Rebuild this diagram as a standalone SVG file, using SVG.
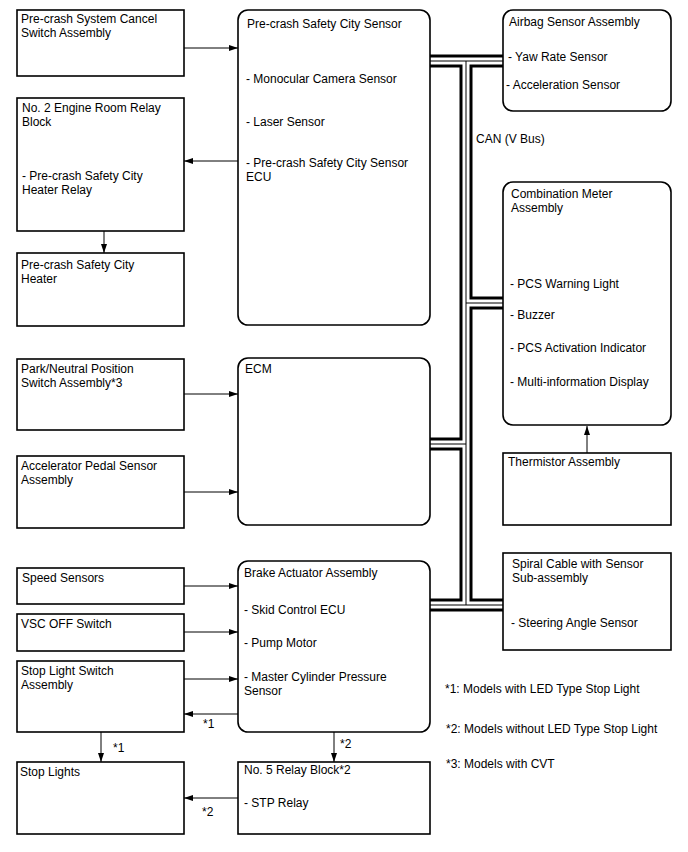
<svg xmlns="http://www.w3.org/2000/svg" width="688" height="852" viewBox="0 0 688 852">
<style>
.box{fill:#fff;stroke:#000;stroke-width:1.6}
.t{font-family:"Liberation Sans",Arial,sans-serif;font-size:12px;fill:#000}
.c{fill:none;stroke:#000;stroke-width:1}
.b1{fill:none;stroke:#000;stroke-width:13;stroke-linecap:butt;stroke-linejoin:miter}
.b2{fill:none;stroke:#fff;stroke-width:7;stroke-linecap:butt;stroke-linejoin:miter}
.b3{fill:none;stroke:#000;stroke-width:1;stroke-linecap:butt}
</style>
<defs>
<marker id="ah" markerUnits="userSpaceOnUse" markerWidth="9" markerHeight="6" refX="9" refY="3" orient="auto">
<path d="M0,0 L9,3 L0,6 z" fill="#000"/>
</marker>
</defs>
<rect width="688" height="852" fill="#fff"/>

<g id="connectors">
<g id="can-bus">
<path class="b1" d="M430,61 H503 M466,61 V605 M466,303 H503 M466,444 H430 M430,605 H503"/>
<path class="b2" d="M430,61 H503 M466,61 V605 M466,303 H503 M466,444 H430 M430,605 H503"/>
<path class="b3" d="M430,61 H503 M466,61 V605 M466,303 H503 M466,444 H430 M430,605 H503"/>
</g>
<line class="c" x1="184" y1="48" x2="238" y2="48" marker-end="url(#ah)"/>
<line class="c" x1="238" y1="161" x2="184" y2="161" marker-end="url(#ah)"/>
<line class="c" x1="104" y1="231" x2="104" y2="253" marker-end="url(#ah)"/>
<line class="c" x1="184" y1="394" x2="238" y2="394" marker-end="url(#ah)"/>
<line class="c" x1="184" y1="492" x2="238" y2="492" marker-end="url(#ah)"/>
<line class="c" x1="184" y1="586" x2="238" y2="586" marker-end="url(#ah)"/>
<line class="c" x1="184" y1="632" x2="238" y2="632" marker-end="url(#ah)"/>
<line class="c" x1="184" y1="679" x2="238" y2="679" marker-end="url(#ah)"/>
<line class="c" x1="238" y1="714" x2="184" y2="714" marker-end="url(#ah)"/>
<line class="c" x1="101" y1="732" x2="101" y2="762" marker-end="url(#ah)"/>
<line class="c" x1="334" y1="732" x2="334" y2="762" marker-end="url(#ah)"/>
<line class="c" x1="238" y1="798" x2="184" y2="798" marker-end="url(#ah)"/>
<line class="c" x1="587" y1="453" x2="587" y2="426" marker-end="url(#ah)"/>
<text class="t" x="203" y="728">*1</text>
<text class="t" x="113" y="752">*1</text>
<text class="t" x="340" y="748">*2</text>
<text class="t" x="202" y="816">*2</text>
<text class="t" x="476" y="143">CAN (V Bus)</text>
</g>

<g id="cancel-switch">
<rect class="box" x="17" y="10" width="167" height="66"/>
<text class="t" x="21" y="23">Pre-crash System Cancel</text>
<text class="t" x="21" y="37">Switch Assembly</text>
</g>
<g id="relay-block-2">
<rect class="box" x="17" y="98" width="167" height="133"/>
<text class="t" x="22" y="112">No. 2 Engine Room Relay</text>
<text class="t" x="22" y="126">Block</text>
<text class="t" x="22" y="180">- Pre-crash Safety City</text>
<text class="t" x="22" y="194">Heater Relay</text>
</g>
<g id="heater">
<rect class="box" x="17" y="253" width="167" height="73"/>
<text class="t" x="21" y="269">Pre-crash Safety City</text>
<text class="t" x="21" y="283">Heater</text>
</g>
<g id="park-neutral">
<rect class="box" x="17" y="359" width="167" height="71"/>
<text class="t" x="21" y="373">Park/Neutral Position</text>
<text class="t" x="21" y="387">Switch Assembly*3</text>
</g>
<g id="accelerator">
<rect class="box" x="17" y="456" width="167" height="72"/>
<text class="t" x="21" y="470">Accelerator Pedal Sensor</text>
<text class="t" x="21" y="484">Assembly</text>
</g>
<g id="speed-sensors">
<rect class="box" x="17" y="568" width="167" height="36"/>
<text class="t" x="22" y="582">Speed Sensors</text>
</g>
<g id="vsc-off">
<rect class="box" x="17" y="614" width="167" height="37"/>
<text class="t" x="21" y="628">VSC OFF Switch</text>
</g>
<g id="stop-light-switch">
<rect class="box" x="17" y="661" width="167" height="71"/>
<text class="t" x="21" y="675">Stop Light Switch</text>
<text class="t" x="21" y="689">Assembly</text>
</g>
<g id="stop-lights">
<rect class="box" x="17" y="762" width="167" height="72"/>
<text class="t" x="20" y="776">Stop Lights</text>
</g>

<g id="pcs-sensor">
<rect class="box" x="238" y="10" width="192" height="315" rx="10"/>
<text class="t" x="247" y="28">Pre-crash Safety City Sensor</text>
<text class="t" x="246" y="83">- Monocular Camera Sensor</text>
<text class="t" x="246" y="126">- Laser Sensor</text>
<text class="t" x="246" y="167">- Pre-crash Safety City Sensor</text>
<text class="t" x="246" y="181">ECU</text>
</g>
<g id="ecm">
<rect class="box" x="238" y="358" width="192" height="167" rx="10"/>
<text class="t" x="245" y="373">ECM</text>
</g>
<g id="brake-actuator">
<rect class="box" x="238" y="561" width="192" height="171" rx="10"/>
<text class="t" x="244" y="577">Brake Actuator Assembly</text>
<text class="t" x="244" y="614">- Skid Control ECU</text>
<text class="t" x="244" y="647">- Pump Motor</text>
<text class="t" x="244" y="681">- Master Cylinder Pressure</text>
<text class="t" x="244" y="695">Sensor</text>
</g>
<g id="relay-block-5">
<rect class="box" x="238" y="762" width="192" height="72"/>
<text class="t" x="244" y="774">No. 5 Relay Block*2</text>
<text class="t" x="244" y="807">- STP Relay</text>
</g>

<g id="airbag-sensor">
<rect class="box" x="503" y="10" width="168" height="101" rx="10"/>
<text class="t" x="509" y="26">Airbag Sensor Assembly</text>
<text class="t" x="508" y="61">- Yaw Rate Sensor</text>
<text class="t" x="506" y="89">- Acceleration Sensor</text>
</g>
<g id="combination-meter">
<rect class="box" x="503" y="182" width="168" height="243" rx="10"/>
<text class="t" x="511" y="198">Combination Meter</text>
<text class="t" x="511" y="212">Assembly</text>
<text class="t" x="510" y="288">- PCS Warning Light</text>
<text class="t" x="510" y="319">- Buzzer</text>
<text class="t" x="510" y="352">- PCS Activation Indicator</text>
<text class="t" x="510" y="386">- Multi-information Display</text>
</g>
<g id="thermistor">
<rect class="box" x="503" y="453" width="168" height="72"/>
<text class="t" x="508" y="466">Thermistor Assembly</text>
</g>
<g id="spiral-cable">
<rect class="box" x="503" y="553" width="168" height="97"/>
<text class="t" x="512" y="568">Spiral Cable with Sensor</text>
<text class="t" x="512" y="582">Sub-assembly</text>
<text class="t" x="511" y="627">- Steering Angle Sensor</text>
</g>

<g id="notes">
<text class="t" x="445" y="693">*1: Models with LED Type Stop Light</text>
<text class="t" x="446" y="733">*2: Models without LED Type Stop Light</text>
<text class="t" x="446" y="768">*3: Models with CVT</text>
</g>
</svg>
